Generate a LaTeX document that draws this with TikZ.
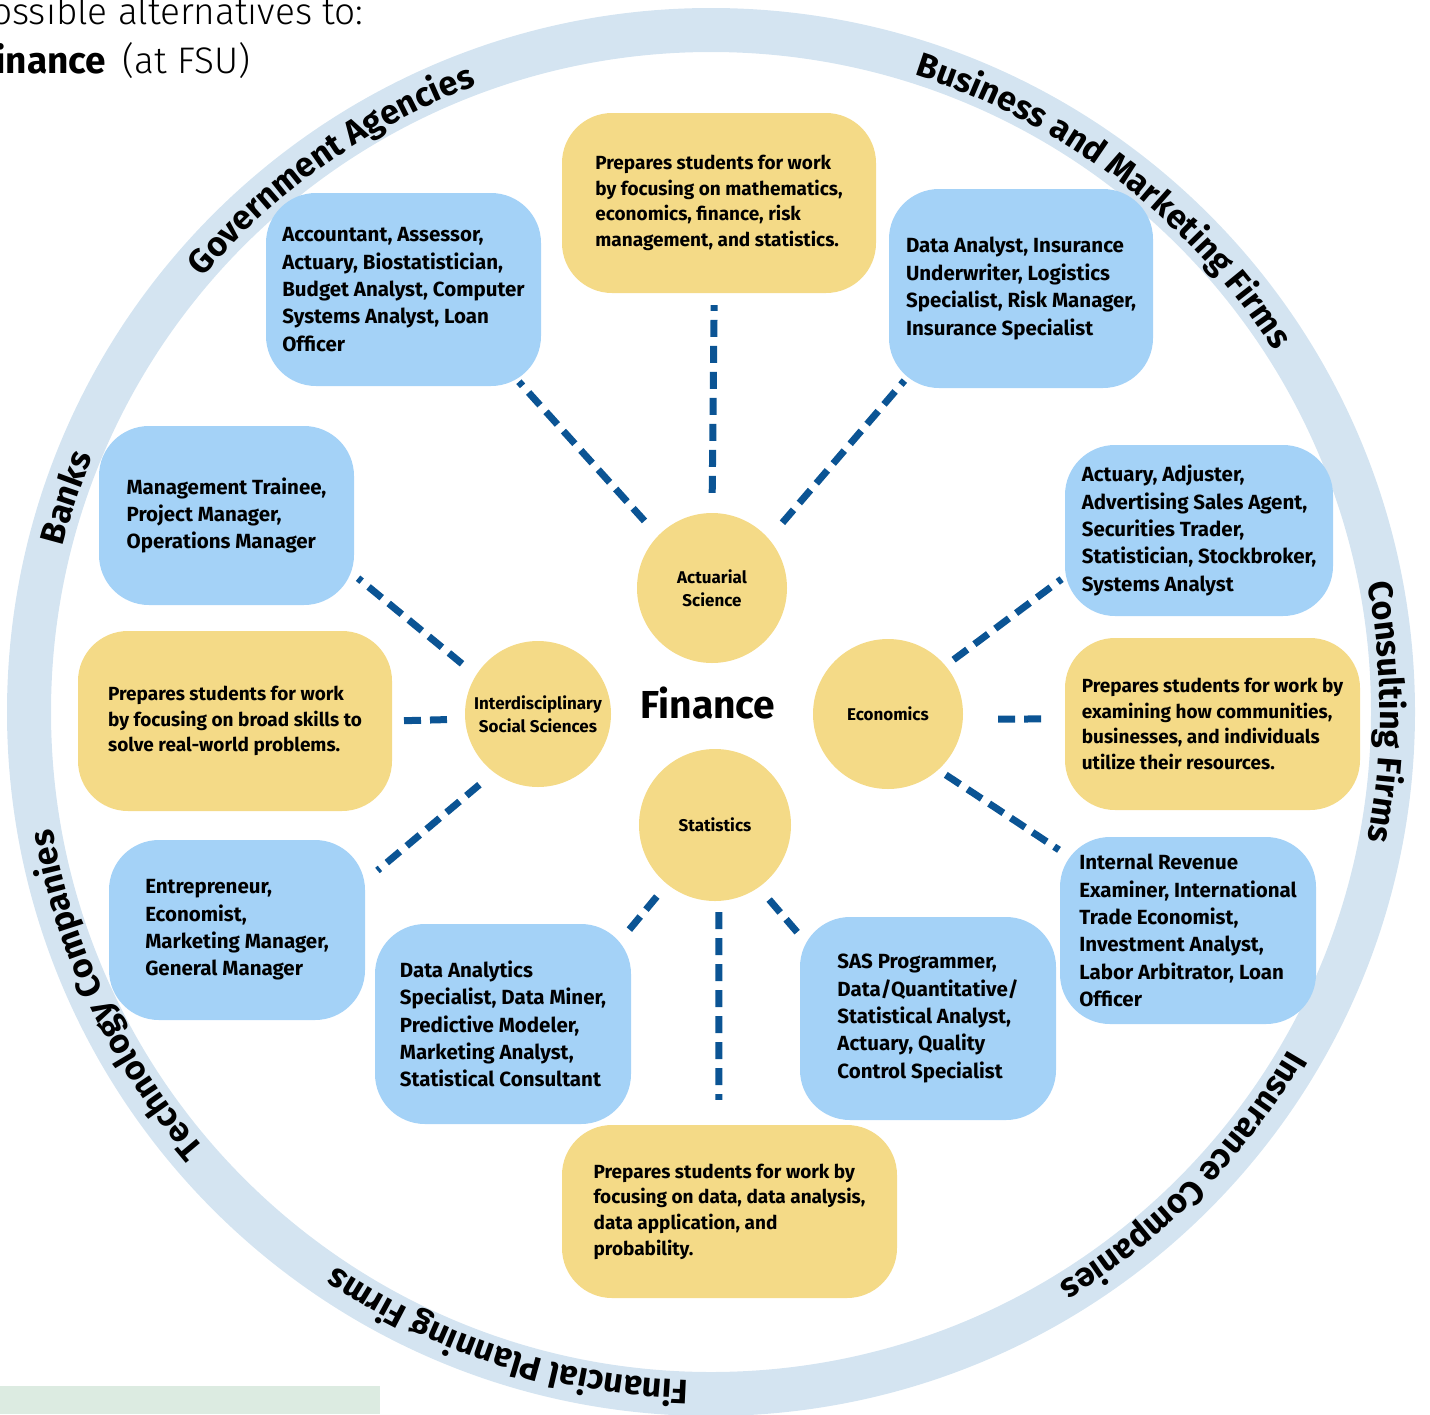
\documentclass[tikz,border=0pt]{standalone}
\usepackage{fontspec}
\setmainfont{Fira Sans}
\newfontfamily\capfont{Fira Sans Light}[BoldFont = Fira Sans Bold]
\usetikzlibrary{decorations.text}

\definecolor{ringblue}{HTML}{D4E4F1}
\definecolor{jobblue}{HTML}{A4D2F7}
\definecolor{prepyellow}{HTML}{F4DA87}
\definecolor{linkblue}{HTML}{0B5494}
\definecolor{notegreen}{HTML}{DCEBE1}

\newcommand\jobfont{\fontsize{20.5}{27.4}\selectfont\bfseries}
\newcommand\prepfont{\fontsize{19}{25.6}\selectfont\bfseries}
\newcommand\stagefont{\fontsize{17}{23}\selectfont\bfseries}
\newcommand\ringfont{\fontsize{34}{34}\selectfont\bfseries}

\begin{document}
\begin{tikzpicture}[x = 1pt, y = -1pt,
	job/.style 2 args = {fill = jobblue, rounded corners = 50pt, inner sep = 0pt,
		minimum width = #1, minimum height = #2, align = left, font = \jobfont},
	prep/.style 2 args = {fill = prepyellow, rounded corners = 50pt, inner sep = 0pt,
		minimum width = #1, minimum height = #2, align = left, font = \prepfont},
	stage/.style = {circle, fill = prepyellow, inner sep = 0pt, minimum size = #1,
		align = center, font = \stagefont},
	link/.style = {draw = linkblue, line width = 7pt, dash pattern = on 17pt off 9pt,
		shorten < = 18pt, shorten > = 6pt},
	ringlabel/.style = {decorate, decoration = {text along path, text align = center,
		text = {|\ringfont|#1}}}]

	% Page

	\useasboundingbox (0, 0) rectangle (1430, 1414);
	\clip (0, 0) rectangle (1430, 1414);

	% Title (cut off at the left edge)

	\node [anchor = base east, font = \capfont\fontsize{37}{37}\selectfont] (title) at (367, 24) {Possible alternatives to:};
	\node [anchor = base east, font = \capfont\fontsize{37}{37}\selectfont] (subtitle) at (254, 73) {\textbf{Finance}\, (at FSU)};

	\fill [notegreen] (0, 1386) rectangle (380, 1414);

	% Ring of employers

	\draw [ringblue, line width = 44pt] (711, 712) circle [radius = 682];

	\begin{scope}[shift = {(711, 712)}, y = 1pt]
		\path [ringlabel = Government Agencies] (175:669) arc [start angle = 175, end angle = 75, radius = 669];
		\path [ringlabel = Business and Marketing Firms] (102.5:669) arc [start angle = 102.5, end angle = 2.5, radius = 669];
		\path [ringlabel = Consulting Firms] (50:669) arc [start angle = 50, end angle = -50, radius = 669];
		\path [ringlabel = Insurance Companies] (5.5:669) arc [start angle = 5.5, end angle = -94.5, radius = 669];
		\path [ringlabel = Financial Planning Firms] (-58:669) arc [start angle = -58, end angle = -158, radius = 669];
		\path [ringlabel = Technology Companies] (255.4:669) arc [start angle = 255.4, end angle = 155.4, radius = 669];
		\path [ringlabel = Banks] (201.6:669) arc [start angle = 201.6, end angle = 121.6, radius = 669];
	\end{scope}

	% Majors

	\node [font = \fontsize{39}{39}\selectfont\bfseries] (finance) at (708, 703) {Finance};

	\node [stage = 150pt] (act) at (712, 588) {Actuarial\\Science};
	\node [stage = 146pt] (iss) at (538, 714) {Interdisciplinary\\Social Sciences};
	\node [stage = 150pt] (eco) at (888, 714) {Economics};
	\node [stage = 152pt] (stat) at (715, 825) {Statistics};

	% Actuarial Science

	\node [prep = {314pt}{180pt}] (actPrep) at (719, 203) {Prepares students for work\\by focusing on mathematics,\\economics, finance, risk\\management, and statistics.};
	\node [job = {275pt}{193pt}] (actGov) at (403.5, 289.5) {Accountant, Assessor,\\Actuary, Biostatistician,\\Budget Analyst, Computer\\Systems Analyst, Loan\\Officer};
	\node [job = {264pt}{199pt}] (actBiz) at (1021, 288.5) {Data Analyst, Insurance\\Underwriter, Logistics\\Specialist, Risk Manager,\\Insurance Specialist};

	\draw [link, shorten < = 20pt, shorten > = 12pt] (act.90) -- (actPrep.-93.8);
	\draw [link, shorten < = 20pt, shorten > = -6pt] (act.136.7) -- (actGov.-39.2);
	\draw [link, shorten < = 21pt, shorten > = -10pt] (act.41.6) -- (actBiz.-141);

	% Interdisciplinary Social Sciences

	\node [job = {255pt}{179pt}] (issMgmt) at (226.5, 515.5) {Management Trainee,\\Project Manager,\\Operations Manager};
	\node [prep = {314pt}{180pt}] (issPrep) at (235, 721) {Prepares students for work\\by focusing on broad skills to\\solve real-world problems.};
	\node [job = {256pt}{180pt}] (issEnt) at (237, 930) {Entrepreneur,\\Economist,\\Marketing Manager,\\General Manager};

	\draw [link, shorten > = 5pt] (iss.148.9) -- (issMgmt.-25.7);
	\draw [link, shorten > = 10pt] (iss.184) -- (issPrep.east);
	\draw [link, shorten < = 19pt, shorten > = 16pt] (iss.233.9) -- (issEnt.21.7);

	% Economics

	\node [job = {268pt}{171pt}] (ecoAct) at (1199, 530.5) {Actuary, Adjuster,\\Advertising Sales Agent,\\Securities Trader,\\Statistician, Stockbroker,\\Systems Analyst};
	\node [prep = {295pt}{172pt}] (ecoPrep) at (1212.5, 724) {Prepares students for work by\\examining how communities,\\businesses, and individuals\\utilize their resources.};
	\node [job = {256pt}{187pt}] (ecoIrs) at (1188, 930.5) {Internal Revenue\\Examiner, International\\Trade Economist,\\Investment Analyst,\\Labor Arbitrator, Loan\\Officer};

	\draw [link, shorten < = 10pt, shorten > = 4pt] (eco.40.2) -- (ecoAct.199);
	\draw [link, shorten < = 35pt, shorten > = 23pt] (eco.-4.6) -- (ecoPrep.178.4);
	\draw [link, shorten < = 9pt, shorten > = 1pt] (eco.-48.9) -- (ecoIrs.148);

	% Statistics

	\node [job = {256pt}{200pt}] (statData) at (503, 1024) {Data Analytics\\Specialist, Data Miner,\\Predictive Modeler,\\Marketing Analyst,\\Statistical Consultant};
	\node [prep = {335pt}{173pt}] (statPrep) at (729.5, 1211.5) {Prepares students for work by\\focusing on data, data analysis,\\data application, and\\probability.};
	\node [job = {256pt}{203pt}] (statSas) at (928, 1018.5) {SAS Programmer,\\Data/Quantitative/\\Statistical Analyst,\\Actuary, Quality\\Control Specialist};

	\draw [link, shorten < = 16pt, shorten > = -4pt] (stat.231.6) -- (statData.37);
	\draw [link, shorten < = 11pt, shorten > = 25pt] (stat.-87.7) -- (statPrep.97.6);
	\draw [link, shorten < = 16pt, shorten > = 2pt] (stat.-55.6) -- (statSas.147.2);

\end{tikzpicture}
\end{document}
